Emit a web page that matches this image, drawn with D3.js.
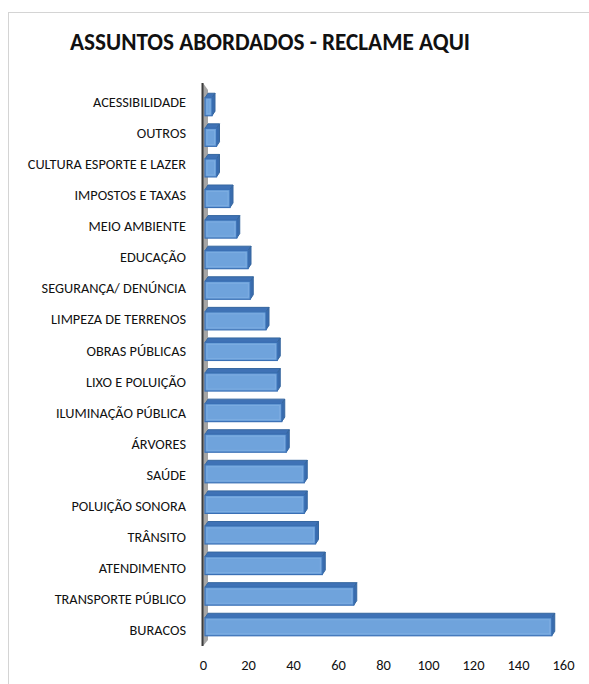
<!DOCTYPE html>
<html>
<head>
<meta charset="utf-8">
<script src="https://cdn.jsdelivr.net/npm/d3@7"></script>
<style>
  body { margin: 0; background: #fff; }
  text { font-family: Carlito, Lato, "Open Sans", sans-serif; fill: #111; }
</style>
</head>
<body>
<svg width="589" height="684"></svg>
<script>
var categories = ['ACESSIBILIDADE', 'OUTROS', 'CULTURA ESPORTE E LAZER', 'IMPOSTOS E TAXAS',
  'MEIO AMBIENTE', 'EDUCAÇÃO', 'SEGURANÇA/ DENÚNCIA', 'LIMPEZA DE TERRENOS', 'OBRAS PÚBLICAS',
  'LIXO E POLUIÇÃO', 'ILUMINAÇÃO PÚBLICA', 'ÁRVORES', 'SAÚDE', 'POLUIÇÃO SONORA', 'TRÂNSITO',
  'ATENDIMENTO', 'TRANSPORTE PÚBLICO', 'BURACOS'];
var values = [4, 6, 6, 12, 15, 20, 21, 28, 33, 33, 35, 37, 45, 45, 50, 53, 67, 155];
var tickValues = [0, 20, 40, 60, 80, 100, 120, 140, 160];
var title = 'ASSUNTOS ABORDADOS - RECLAME AQUI';

var svg = d3.select('svg');

// chart frame
svg.append('rect')
  .attr('x', 8.5)
  .attr('y', 12.5)
  .attr('width', 700)
  .attr('height', 700)
  .attr('fill', 'none')
  .attr('stroke', '#d4d4d4');

svg.append('text')
  .text(title)
  .attr('x', 270)
  .attr('y', 50)
  .attr('text-anchor', 'middle')
  .attr('font-size', 24)
  .attr('font-weight', 'bold')
  .attr('textLength', 400)
  .attr('lengthAdjust', 'spacingAndGlyphs');

var x = d3.scaleLinear().domain([0, 160]).range([203, 563]);
// labels and bars sit on slightly different spacing (3d perspective)
var yLabel = d3.scaleBand().domain(categories).range([86.5, 645.6]);
var yBar = d3.scaleBand().domain(categories).range([89.2, 639.8]);

// side wall
svg.append('path')
  .attr('fill', '#a5a5a5')
  .attr('d', 'M203,83 L208,90 L208,640 L203,646Z');
svg.append('line')
  .attr('x1', 202.5).attr('y1', 83)
  .attr('x2', 202.5).attr('y2', 646)
  .attr('stroke', '#3c3c3c')
  .attr('stroke-width', 2);

var dx = 3, dy = 4.5, h = 18;

var bars = svg.selectAll('g.bar')
  .data(categories)
  .enter().append('g')
  .attr('class', 'bar');

bars.each(function (c, i) {
  var g = d3.select(this);
  var x0 = x(0) + 2;
  var x1 = x(values[i]);
  var yt = yBar(c) + (yBar.bandwidth() - h - dy) / 2 + dy;
  // top face
  g.append('path')
    .attr('fill', '#3f72b6')
    .attr('stroke', '#36679f')
    .attr('stroke-width', 1)
    .attr('d', 'M' + x0 + ',' + yt + ' L' + (x0 + dx) + ',' + (yt - dy) +
      ' L' + (x1 + dx) + ',' + (yt - dy) + ' L' + x1 + ',' + yt + 'Z');
  // side face
  g.append('path')
    .attr('fill', '#3a6cae')
    .attr('stroke', '#36679f')
    .attr('stroke-width', 1)
    .attr('d', 'M' + x1 + ',' + yt + ' L' + (x1 + dx) + ',' + (yt - dy) +
      ' L' + (x1 + dx) + ',' + (yt + h - dy) + ' L' + x1 + ',' + (yt + h) + 'Z');
  // front face
  g.append('rect')
    .attr('x', x0)
    .attr('y', yt)
    .attr('width', x1 - x0)
    .attr('height', h)
    .attr('fill', '#6fa3dc')
    .attr('stroke', '#3a70b5')
    .attr('stroke-width', 1.2);
  // bevel highlight
  g.append('rect')
    .attr('x', x0 + 2)
    .attr('y', yt + 2)
    .attr('width', Math.max(0, x1 - x0 - 4))
    .attr('height', h - 4)
    .attr('fill', 'none')
    .attr('stroke', '#8ab8e8')
    .attr('stroke-width', 0.8)
    .attr('opacity', 0.6);
});

// category labels
svg.selectAll('text.cat')
  .data(categories)
  .enter().append('text')
  .attr('class', 'cat')
  .text(function (d) { return d; })
  .attr('x', 186)
  .attr('y', function (d) { return yLabel(d) + yLabel.bandwidth() / 2 + 5; })
  .attr('text-anchor', 'end')
  .attr('font-size', 14.3);

// x axis labels
var axis = d3.axisBottom(x).tickValues(tickValues).tickSize(0).tickPadding(0);
var ax = svg.append('g')
  .attr('transform', 'translate(0,657)')
  .call(axis);
ax.select('.domain').remove();
ax.selectAll('text')
  .attr('font-size', 14.5)
  .attr('font-family', 'Carlito, Lato, "Open Sans", sans-serif')
  .attr('fill', '#111')
  .attr('dy', '0.9em');
</script>
</body>
</html>
